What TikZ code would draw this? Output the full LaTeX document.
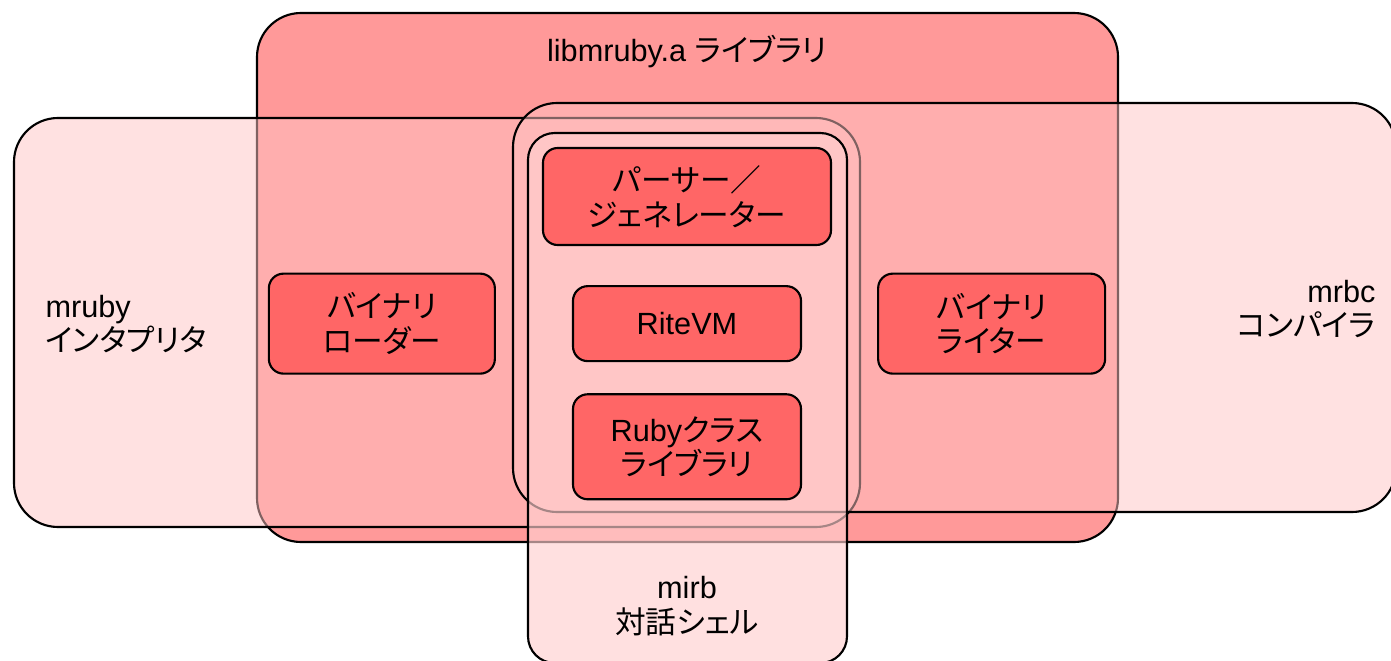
\documentclass[tikz,border=0pt]{standalone}
\usepackage{fontspec}
\setmainfont{Liberation Sans}
\newfontfamily\jp[RawFeature=+palt]{Noto Sans CJK JP}
\usetikzlibrary{positioning, fit}

\definecolor{libred}{HTML}{FF9999}
\definecolor{partred}{HTML}{FF6666}
\definecolor{toolpink}{HTML}{FFC3C3}
\definecolor{shellpink}{HTML}{FFCFCF}
\newcommand{\bigtext}{\fontsize{23}{26}\selectfont}

\begin{document}
\begin{tikzpicture}[
  x=0.75pt, y=-0.75pt,
  node distance=29.25pt and 57pt,
  font=\bigtext,
  line width=1.6pt,
  area/.style={draw, rounded corners=33pt, inner sep=0pt},
  lib/.style={area, fill=libred},
  tool/.style={area, fill=toolpink, fill opacity=0.5},
  shell/.style={area, rounded corners=20pt, fill=shellpink, fill opacity=0.65},
  part/.style={
    draw, fill=partred,
    rounded corners=11pt,
    align=center, inner sep=0pt,
    minimum width=171pt,
    font=\bigtext\jp
  },
  areaname/.style={align=center},
]
\useasboundingbox (0,0) rectangle (1391,660);
\clip (0,0) rectangle (1391,660);

% --- library and the three programs ---
\node[lib, fit={(257,13) (1118,542)}] (LIB) {};
\node[tool, fit={(14,118) (860,527)}] (MRUBY) {};
\node[tool, fit={(513,103) (1396,512)}] (MRBC) {};
\node[shell, fit={(528,133) (847,663)}] (MIRB) {};

% --- parts: centre column ---
\node[part, minimum width=216pt, minimum height=72.75pt] at (687,196.5) (PARSER) {パーサー／\\ジェネレーター};
\node[part, minimum height=56.25pt, font=\bigtext, below=of PARSER] (VM) {RiteVM};
\node[part, minimum height=78.75pt, font=\bigtext, below=23.25pt of VM] (CLASSLIB) {Ruby{\jp クラス}\\{\jp ライブラリ}};

% --- parts: loader and writer ---
\node[part, minimum width=169.5pt, minimum height=75pt, left=of VM] (LOADER) {バイナリ\\ローダー};
\node[part, minimum width=170.25pt, minimum height=75pt, right=56.25pt of VM] (WRITER) {バイナリ\\ライター};

% --- names ---
\node[areaname] at (687,52) (LIBNAME) {libmruby.a {\jp ライブラリ}};
\node[areaname, align=left, anchor=west] at (40,324) (MRUBYNAME) {mruby\\{\jp インタプリタ}};
\node[areaname, align=right, anchor=east] at (1381,309) (MRBCNAME) {mrbc\\{\jp コンパイラ}};
\node[areaname] at (687,606) (MIRBNAME) {mirb\\{\jp 対話シェル}};

\end{tikzpicture}
\end{document}
